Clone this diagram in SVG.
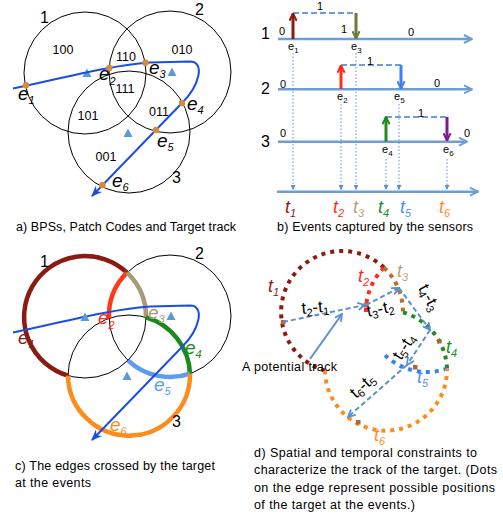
<svg xmlns="http://www.w3.org/2000/svg" width="503" height="518" viewBox="0 0 503 518">
<style>
text{font-family:"Liberation Sans",Arial,sans-serif;fill:#000}
.lbl{font-size:16px}
.code{font-size:12.5px;text-anchor:middle}
.ei{font-size:19px;font-style:italic}
.sub{font-size:11px}
.cap{font-size:12.5px}
.sm{font-size:11px;text-anchor:middle}
.es{font-size:11px}
.es2{font-size:8px}
.ti{font-size:18px;font-style:italic}
.dl{font-size:17px}
.dls{font-size:11px}
.circ{fill:none;stroke:#000;stroke-width:1}
.trk{fill:none;stroke:#1a4de6;stroke-width:2}
.tri{fill:#5b9bd5}
.ev{fill:#d48a3c}
.tl{fill:none;stroke:#6d9fd6;stroke-width:2.5}
.dash{fill:none;stroke:#6d9fd6;stroke-width:2;stroke-dasharray:6 3}
.dot{fill:none;stroke:#5b8fd0;stroke-width:1;stroke-dasharray:1.5 2}
.va{fill:none;stroke-width:3}
.arc{fill:none;stroke-width:4.5}
.dd{fill:none;stroke-width:4;stroke-dasharray:4 5}
.da{fill:none;stroke:#5b8fd0;stroke-width:2;stroke-dasharray:5 3}
.hl{fill:#b5672a}
</style>
<defs>
<marker id="mTL" viewBox="0 0 10 10" refX="9" refY="5" markerWidth="10" markerHeight="10" markerUnits="userSpaceOnUse" orient="auto"><path d="M1,1L9,5L1,9" fill="none" stroke="#6d9fd6" stroke-width="2"/></marker>
<marker id="mDR" viewBox="0 0 10 10" refX="9" refY="5" markerWidth="9" markerHeight="9" markerUnits="userSpaceOnUse" orient="auto"><path d="M1,1L9,5L1,9" fill="none" stroke="#8b1a12" stroke-width="2.2"/></marker>
<marker id="mRd" viewBox="0 0 10 10" refX="9" refY="5" markerWidth="9" markerHeight="9" markerUnits="userSpaceOnUse" orient="auto"><path d="M1,1L9,5L1,9" fill="none" stroke="#ff2a1a" stroke-width="2.2"/></marker>
<marker id="mOl" viewBox="0 0 10 10" refX="9" refY="5" markerWidth="9" markerHeight="9" markerUnits="userSpaceOnUse" orient="auto"><path d="M1,1L9,5L1,9" fill="none" stroke="#6b7b3a" stroke-width="2.2"/></marker>
<marker id="mBl" viewBox="0 0 10 10" refX="9" refY="5" markerWidth="9" markerHeight="9" markerUnits="userSpaceOnUse" orient="auto"><path d="M1,1L9,5L1,9" fill="none" stroke="#3f7ff2" stroke-width="2.2"/></marker>
<marker id="mGn" viewBox="0 0 10 10" refX="9" refY="5" markerWidth="9" markerHeight="9" markerUnits="userSpaceOnUse" orient="auto"><path d="M1,1L9,5L1,9" fill="none" stroke="#1e8c1e" stroke-width="2.2"/></marker>
<marker id="mPu" viewBox="0 0 10 10" refX="9" refY="5" markerWidth="9" markerHeight="9" markerUnits="userSpaceOnUse" orient="auto"><path d="M1,1L9,5L1,9" fill="none" stroke="#7a1f8a" stroke-width="2.2"/></marker>
<marker id="mDA" viewBox="0 0 10 10" refX="9" refY="5" markerWidth="9" markerHeight="9" markerUnits="userSpaceOnUse" orient="auto"><path d="M1,1L9,5L1,9" fill="none" stroke="#5b8fd0" stroke-width="2"/></marker>
<marker id="mDot" viewBox="0 0 6 6" refX="6" refY="3" markerWidth="5" markerHeight="5" markerUnits="userSpaceOnUse" orient="auto"><path d="M0,0L6,3L0,6z" fill="#5b8fd0"/></marker>
<marker id="mTrk" viewBox="0 0 10 10" refX="9" refY="5" markerWidth="11" markerHeight="11" markerUnits="userSpaceOnUse" orient="auto"><path d="M0,1L10,5L0,9L3,5z" fill="#1a4de6"/></marker>
<g id="circles3">
<circle class="circ" cx="85" cy="73" r="61"/>
<circle class="circ" cx="170" cy="72" r="61"/>
<circle class="circ" cx="129" cy="132" r="61"/>
</g>
<path id="track" class="trk" d="M13,88.5 C60,79 105,66 150,62.5 L190,61.5 C205,61.5 200,85 182,103 L92,196" marker-end="url(#mTrk)"/>
</defs>

<!-- Panel a -->
<g id="panel-a">
<use href="#circles3"/>
<g id="a-centres">
<path class="tri" d="M87,68.5L91.5,77L82.5,77z"/>
<path class="tri" d="M172,67.5L176.5,76L167.5,76z"/>
<path class="tri" d="M128,128.5L132.5,137L123.5,137z"/>
</g>
<g id="a-codes">
<text class="code" x="63" y="54">100</text>
<text class="code" x="126" y="61">110</text>
<text class="code" x="182" y="54">010</text>
<text class="code" x="125" y="93">111</text>
<text class="code" x="88" y="120">101</text>
<text class="code" x="159" y="116">011</text>
<text class="code" x="106" y="161">001</text>
</g>
<text class="lbl" x="40" y="23">1</text>
<text class="lbl" x="195" y="15">2</text>
<text class="lbl" x="172" y="183">3</text>
<use href="#track"/>
<g id="a-events">
<circle class="ev" cx="26" cy="85.3" r="3.2"/>
<circle class="ev" cx="109.3" cy="67.9" r="3.2"/>
<circle class="ev" cx="145.5" cy="62.7" r="3.2"/>
<circle class="ev" cx="182" cy="103" r="3.2"/>
<circle class="ev" cx="156" cy="130" r="3.2"/>
<circle class="ev" cx="102.5" cy="185" r="3.2"/>
</g>
<g id="a-elabels">
<text class="ei" x="18" y="100">e<tspan class="sub" dy="4">1</tspan></text>
<text class="ei" x="99" y="80">e<tspan class="sub" dy="5">2</tspan></text>
<text class="ei" x="149" y="74">e<tspan class="sub" dy="4">3</tspan></text>
<text class="ei" x="187" y="110">e<tspan class="sub" dy="4">4</tspan></text>
<text class="ei" x="157" y="147">e<tspan class="sub" dy="4">5</tspan></text>
<text class="ei" x="112" y="187">e<tspan class="sub" dy="4">6</tspan></text>
</g>
<text class="cap" x="16" y="231" textLength="220">a) BPSs, Patch Codes and Target track</text>
</g>

<!-- Panel b -->
<g id="panel-b">
<g id="b-timelines">
<line class="tl" x1="278" y1="39" x2="472" y2="39" marker-end="url(#mTL)"/>
<line class="tl" x1="278" y1="89.3" x2="472" y2="89.3" marker-end="url(#mTL)"/>
<line class="tl" x1="278" y1="141.7" x2="467" y2="141.7" marker-end="url(#mTL)"/>
<line class="tl" x1="277" y1="191.7" x2="478" y2="191.7" marker-end="url(#mTL)"/>
</g>
<text class="lbl" x="261" y="39">1</text>
<text class="lbl" x="261" y="94">2</text>
<text class="lbl" x="261" y="147">3</text>
<g id="b-connectors">
<line class="dash" x1="293" y1="13" x2="356" y2="13"/>
<line class="dash" x1="341" y1="65" x2="401" y2="65"/>
<line class="dash" x1="386" y1="117" x2="447" y2="117"/>
<line class="dot" x1="293" y1="53" x2="293" y2="190" marker-end="url(#mDot)"/>
<line class="dot" x1="341" y1="104" x2="341" y2="190" marker-end="url(#mDot)"/>
<line class="dot" x1="356" y1="53" x2="356" y2="190" marker-end="url(#mDot)"/>
<line class="dot" x1="386" y1="159" x2="386" y2="190" marker-end="url(#mDot)"/>
<line class="dot" x1="399" y1="104" x2="399" y2="190" marker-end="url(#mDot)"/>
<line class="dot" x1="447" y1="159" x2="447" y2="190" marker-end="url(#mDot)"/>
<line class="va" stroke="#8b1a12" x1="293" y1="39" x2="293" y2="13.5" marker-end="url(#mDR)"/>
<line class="va" stroke="#6b7b3a" x1="356" y1="13" x2="356" y2="38.5" marker-end="url(#mOl)"/>
<line class="va" stroke="#ff2a1a" x1="341" y1="89" x2="341" y2="65.5" marker-end="url(#mRd)"/>
<line class="va" stroke="#3f7ff2" x1="401" y1="65" x2="401" y2="88.5" marker-end="url(#mBl)"/>
<line class="va" stroke="#1e8c1e" x1="386" y1="141.5" x2="386" y2="117" marker-end="url(#mGn)"/>
<line class="va" stroke="#7a1f8a" x1="447" y1="117" x2="447" y2="140.5" marker-end="url(#mPu)"/>
</g>
<g id="b-values">
<text class="sm" x="320" y="9.5">1</text>
<text class="sm" x="282" y="35">0</text>
<text class="sm" x="344" y="33">1</text>
<text class="sm" x="411" y="36">0</text>
<text class="sm" x="370" y="65">1</text>
<text class="sm" x="283" y="88">0</text>
<text class="sm" x="437" y="87">0</text>
<text class="sm" x="421" y="117">1</text>
<text class="sm" x="283" y="137">0</text>
<text class="sm" x="467" y="137">0</text>
</g>
<g id="b-elabels">
<text class="es" x="288" y="50">e<tspan class="es2" dy="3">1</tspan></text>
<text class="es" x="351" y="50">e<tspan class="es2" dy="3">3</tspan></text>
<text class="es" x="337" y="100">e<tspan class="es2" dy="3">2</tspan></text>
<text class="es" x="394" y="100">e<tspan class="es2" dy="3">5</tspan></text>
<text class="es" x="382" y="153">e<tspan class="es2" dy="3">4</tspan></text>
<text class="es" x="443" y="153">e<tspan class="es2" dy="3">6</tspan></text>
</g>
<g id="b-tlabels">
<text class="ti" x="285" y="213" style="fill:#8b1a12">t<tspan class="sub" dy="4">1</tspan></text>
<text class="ti" x="333" y="213" style="fill:#ff2a1a">t<tspan class="sub" dy="4">2</tspan></text>
<text class="ti" x="353" y="213" style="fill:#b5a47a">t<tspan class="sub" dy="4">3</tspan></text>
<text class="ti" x="378" y="213" style="fill:#1e8c1e">t<tspan class="sub" dy="4">4</tspan></text>
<text class="ti" x="400" y="213" style="fill:#4f8ff7">t<tspan class="sub" dy="4">5</tspan></text>
<text class="ti" x="439" y="213" style="fill:#ff8c1a">t<tspan class="sub" dy="4">6</tspan></text>
</g>
<text class="cap" x="277" y="231" textLength="196">b) Events captured by the sensors</text>
</g>

<!-- Panel c -->
<g id="panel-c">
<g transform="translate(0,244)">
<use href="#circles3"/>
<g id="c-edges">
<path class="arc" stroke="#8b1a12" d="M127,28.7 A61,61 0 1 0 68,131.6"/>
<path class="arc" stroke="#ff3a14" d="M127,28.7 A61,61 0 0 0 109,74.35"/>
<path class="arc" stroke="#a89a78" d="M127,28.7 A61,61 0 0 1 146,73.4"/>
<path class="arc" stroke="#1a8a1a" d="M146,73.4 A61,61 0 0 1 190,129.6"/>
<path class="arc" stroke="#5b9bf5" d="M128,116.3 A61,61 0 0 0 190,129.6"/>
<path class="arc" stroke="#ff8c1a" d="M68,131.6 A61,61 0 1 0 190,129.6"/>
</g>
<use href="#track"/>
<g id="c-centres">
<path class="tri" d="M85,68.5L89.5,77L80.5,77z"/>
<path class="tri" d="M171,67.5L175.5,76L166.5,76z"/>
<path class="tri" d="M127,127.5L131.5,136L122.5,136z"/>
</g>
<text class="lbl" x="40" y="23">1</text>
<text class="lbl" x="195" y="15">2</text>
<text class="lbl" x="172" y="183">3</text>
<g id="c-elabels">
<text class="ei" x="18" y="100" style="fill:#8b1a12">e<tspan class="sub" dy="4">1</tspan></text>
<text class="ei" x="98" y="80" style="fill:#ff2a1a">e<tspan class="sub" dy="5">2</tspan></text>
<text class="ei" x="148" y="75" style="fill:#a89a78">e<tspan class="sub" dy="4">3</tspan></text>
<text class="ei" x="185" y="110" style="fill:#1a8a1a">e<tspan class="sub" dy="4">4</tspan></text>
<text class="ei" x="154" y="147" style="fill:#5b9bf5">e<tspan class="sub" dy="4">5</tspan></text>
<text class="ei" x="110" y="187" style="fill:#ff8c1a">e<tspan class="sub" dy="4">6</tspan></text>
</g>
</g>
<text class="cap" x="15" y="470" textLength="200">c) The edges crossed by the target</text>
<text class="cap" x="15" y="486.5" textLength="76">at the events</text>
</g>

<!-- Panel d -->
<g id="panel-d">
<g id="d-edges">
<path class="dd" stroke="#8b1a12" d="M384,267.7 A61,61 0 1 0 325,370.6"/>
<path class="dd" stroke="#ff2a1a" d="M384,267.7 A61,61 0 0 0 366,313.35"/>
<path class="dd" stroke="#b8702e" d="M384,267.7 A61,61 0 0 1 403,312.4"/>
<path class="dd" stroke="#1e8c1e" d="M403,312.4 A61,61 0 0 1 447,368.6"/>
<path class="dd" stroke="#3a7ff5" d="M385,355.3 A61,61 0 0 0 447,368.6"/>
<path class="dd" stroke="#ff8c1a" d="M325,370.6 A61,61 0 1 0 447,368.6"/>
</g>
<g id="d-positions">
<rect class="hl" x="281" y="320" width="4.5" height="4.5"/>
<rect class="hl" x="364" y="303" width="4.5" height="4.5"/>
<rect class="hl" x="437" y="339" width="4.5" height="4.5"/>
<rect class="hl" x="413" y="365" width="4.5" height="4.5"/>
<rect class="hl" x="356" y="420" width="4.5" height="4.5"/>
</g>
<g id="d-connectors">
<line class="da" x1="283" y1="322" x2="365" y2="305" marker-end="url(#mDA)"/>
<line class="da" x1="366" y1="305" x2="399" y2="288" marker-end="url(#mDA)"/>
<line class="da" x1="399" y1="288" x2="430" y2="330" marker-end="url(#mDA)"/>
<line class="da" x1="430" y1="330" x2="407" y2="365" marker-end="url(#mDA)"/>
<line class="da" x1="407" y1="365" x2="348" y2="417" marker-end="url(#mDA)"/>
<line stroke="#5b8fd0" stroke-width="2" x1="310" y1="359" x2="342" y2="314" marker-end="url(#mDA)"/>
</g>
<g id="d-tlabels">
<text class="ti" x="268" y="292" style="fill:#8b1a12">t<tspan class="sub" dy="4">1</tspan></text>
<text class="ti" x="358" y="282" style="fill:#ff2a1a">t<tspan class="sub" dy="4">2</tspan></text>
<text class="ti" x="397" y="277" style="fill:#b5a47a">t<tspan class="sub" dy="4">3</tspan></text>
<text class="ti" x="446" y="353" style="fill:#1e8c1e">t<tspan class="sub" dy="4">4</tspan></text>
<text class="ti" x="417" y="383" style="fill:#4f8ff7">t<tspan class="sub" dy="4">5</tspan></text>
<text class="ti" x="374" y="441" style="fill:#ff8c1a">t<tspan class="sub" dy="4">6</tspan></text>
</g>
<g id="d-difflabels">
<text class="dl" transform="translate(302,314) rotate(-5)">t<tspan class="dls" dy="3">2</tspan><tspan dy="-3">-t</tspan><tspan class="dls" dy="3">1</tspan></text>
<text class="dl" transform="translate(368,317) rotate(-12)">t<tspan class="dls" dy="3">3</tspan><tspan dy="-3">-t</tspan><tspan class="dls" dy="3">2</tspan></text>
<text class="dl" transform="translate(418,288) rotate(62)">t<tspan class="dls" dy="3">4</tspan><tspan dy="-3">-t</tspan><tspan class="dls" dy="3">3</tspan></text>
<text class="dl" transform="translate(401,361) rotate(-57)">t<tspan class="dls" dy="3">5</tspan><tspan dy="-3">-t</tspan><tspan class="dls" dy="3">4</tspan></text>
<text class="dl" transform="translate(356,399) rotate(-42)">t<tspan class="dls" dy="3">6</tspan><tspan dy="-3">-t</tspan><tspan class="dls" dy="3">5</tspan></text>
</g>
<text class="cap" x="242" y="371" textLength="95">A potential track</text>
<text class="cap" x="254" y="457" textLength="223">d) Spatial and temporal constraints to</text>
<text class="cap" x="254" y="474" textLength="243">characterize the track of the target. (Dots</text>
<text class="cap" x="254" y="491.5" textLength="241">on the edge represent possible positions</text>
<text class="cap" x="254" y="508.5" textLength="161">of the target at the events.)</text>
</g>
</svg>
